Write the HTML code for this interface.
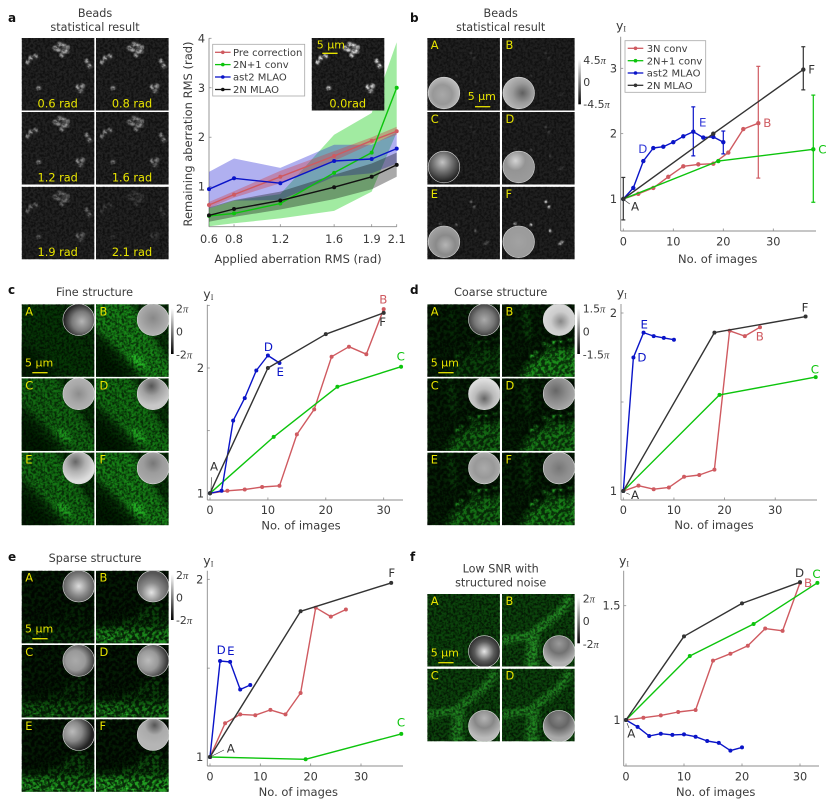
<!DOCTYPE html>
<html lang="en">
<head>
<meta charset="utf-8">
<title>Aberration correction figure</title>
<style>
html,body{margin:0;padding:0;background:#fff;}
svg{display:block;}
text{font-family:"DejaVu Sans","Liberation Sans",sans-serif;fill:#3a3a3a;font-size:11.3px;}
.pl{font-weight:bold;font-size:12px;fill:#111;}
.ttl{text-anchor:middle;font-size:11.2px;}
.cb{font-size:10.9px;}
.pi{font-family:"Liberation Serif",serif;font-style:italic;font-size:10.5px;}
</style>
</head>
<body>
<svg id="fig" xmlns="http://www.w3.org/2000/svg" width="831" height="802" viewBox="0 0 831 802">
<defs>
<linearGradient id="cbar" x1="0" y1="0" x2="0" y2="1"><stop offset="0" stop-color="#fff"/><stop offset="1" stop-color="#000"/></linearGradient>
<filter id="soft" filterUnits="userSpaceOnUse" x="-10" y="-10" width="95" height="95"><feGaussianBlur stdDeviation="0.9"/></filter>
<filter id="b1" filterUnits="userSpaceOnUse" x="-20" y="-20" width="115" height="115"><feGaussianBlur stdDeviation="1.5"/></filter>
<filter id="b2" filterUnits="userSpaceOnUse" x="-20" y="-20" width="115" height="115"><feGaussianBlur stdDeviation="2.2"/></filter>
<filter id="b3" filterUnits="userSpaceOnUse" x="-20" y="-20" width="115" height="115"><feGaussianBlur stdDeviation="3"/></filter>
<filter id="mottle" x="0" y="0" width="100%" height="100%"><feTurbulence type="fractalNoise" baseFrequency="0.42" numOctaves="2" seed="4"/><feColorMatrix type="matrix" values="0 0 0 0 0  0 0 0 0 0  0 0 0 0 0  3.4 0 0 0 -1.3"/></filter>
<filter id="mottle2" x="0" y="0" width="100%" height="100%"><feTurbulence type="fractalNoise" baseFrequency="0.3" numOctaves="3" seed="9"/><feColorMatrix type="matrix" values="0 0 0 0 0  0 0 0 0 0  0 0 0 0 0  4.2 0 0 0 -1.5"/></filter>
</defs>
<rect width="831" height="802" fill="#fff"/>

<text class="pl" x="8" y="22">a</text>
<text class="pl" x="410" y="22">b</text>
<text class="pl" x="8" y="294">c</text>
<text class="pl" x="410" y="294">d</text>
<text class="pl" x="8" y="561">e</text>
<text class="pl" x="410" y="561">f</text>

<text class="ttl" x="95" y="17">Beads</text>
<text class="ttl" x="95" y="31">statistical result</text>
<text class="ttl" x="500.7" y="17">Beads</text>
<text class="ttl" x="500.7" y="31">statistical result</text>
<text class="ttl" x="94.5" y="296">Fine structure</text>
<text class="ttl" x="500.7" y="296">Coarse structure</text>
<text class="ttl" x="95" y="562">Sparse structure</text>
<text class="ttl" x="500.7" y="572.7">Low SNR with</text>
<text class="ttl" x="500.7" y="586.7">structured noise</text>

<g id="panels"></g>
<g id="charts"></g>
<g id="overlay"></g>

<g>
<rect x="578.3" y="59.3" width="2.6" height="45" fill="url(#cbar)"/>
<text class="cb" x="583.3" y="64">4.5<tspan class="pi">π</tspan></text>
<text class="cb" x="583.3" y="86">0</text>
<text class="cb" x="583.3" y="108">-4.5<tspan class="pi">π</tspan></text>
</g>
<g>
<rect x="171" y="308.3" width="2.6" height="45.7" fill="url(#cbar)"/>
<text class="cb" x="176" y="312.5">2<tspan class="pi">π</tspan></text>
<text class="cb" x="176" y="335.7">0</text>
<text class="cb" x="176" y="358.5">-2<tspan class="pi">π</tspan></text>
</g>
<g>
<rect x="577.3" y="308.3" width="2.6" height="45.7" fill="url(#cbar)"/>
<text class="cb" x="582.7" y="312.5">1.5<tspan class="pi">π</tspan></text>
<text class="cb" x="582.7" y="335.7">0</text>
<text class="cb" x="582.7" y="358.5">-1.5<tspan class="pi">π</tspan></text>
</g>
<g>
<rect x="171" y="574.3" width="2.6" height="45.7" fill="url(#cbar)"/>
<text class="cb" x="176" y="579">2<tspan class="pi">π</tspan></text>
<text class="cb" x="176" y="601.7">0</text>
<text class="cb" x="176" y="624">-2<tspan class="pi">π</tspan></text>
</g>
<g>
<rect x="577.3" y="597.3" width="2.6" height="46" fill="url(#cbar)"/>
<text class="cb" x="582.7" y="602.3">2<tspan class="pi">π</tspan></text>
<text class="cb" x="582.7" y="625">0</text>
<text class="cb" x="582.7" y="648">-2<tspan class="pi">π</tspan></text>
</g>
</svg>

<script>
// ---------- chart data ----------
const aXTicks = [0.6, 0.8, 1.17, 1.6, 1.9, 2.1];
const aXTickLabels = ['0.6', '0.8', '1.2', '1.6', '1.9', '2.1'];
const aYTicks = [1, 2, 3, 4];
const aYTickLabels = ['1', '2', '3', '4'];
const aPre = [0.63, 0.84, 1.2, 1.62, 1.93, 2.12];
const aPreUpper = [0.69, 0.91, 1.32, 1.72, 2.0, 2.21];
const aPreLower = [0.57, 0.78, 1.07, 1.52, 1.87, 2.05];
const aConv = [0.41, 0.46, 0.66, 1.28, 1.69, 3.0];
const aConvUpper = [0.56, 0.72, 0.85, 2.05, 2.49, 3.92];
const aConvLower = [0.2, 0.26, 0.36, 0.51, 0.9, 2.1];
const aAst = [0.95, 1.17, 1.07, 1.52, 1.56, 1.77];
const aAstUpper = [1.3, 1.57, 1.38, 1.85, 1.85, 2.1];
const aAstLower = [0.56, 0.72, 0.73, 1.2, 1.27, 1.47];
const aMlao = [0.42, 0.55, 0.72, 0.99, 1.2, 1.44];
const aMlaoUpper = [0.58, 0.73, 0.9, 1.24, 1.47, 1.69];
const aMlaoLower = [0.29, 0.39, 0.54, 0.75, 0.95, 1.2];

const bXTicks = [0, 10, 20, 30];
const bYTicks = [1, 2, 3];
const bYTickLabels = ['1', '2', '3'];
const b3NX = [0, 3, 6, 9, 12, 15, 18, 21, 24, 27];
const b3NY = [1, 1.08, 1.17, 1.34, 1.5, 1.53, 1.54, 1.71, 2.07, 2.16];
const b3NErr = [27, 1.32, 3.03];
const bConvX = [0, 19, 38];
const bConvY = [1, 1.58, 1.76];
const bConvErr = [38, 0.95, 2.59];
const bAstX = [0, 2, 4, 6, 8, 10, 12, 14, 16, 18, 20];
const bAstY = [1, 1.17, 1.58, 1.78, 1.8, 1.87, 1.96, 2.03, 1.94, 1.95, 1.87];
const bAstErr1 = [14, 1.66, 2.41];
const bAstErr2 = [20, 1.69, 2.04];
const bMlaoX = [0, 18, 36];
const bMlaoY = [1, 2, 2.98];
const bMlaoErr1 = [0, 0.68, 1.33];
const bMlaoErr2 = [36, 2.67, 3.33];

const cXTicks = [0, 10, 20, 30];
const cYTicks = [1, 1.5, 2, 2.5];
const cYTickLabels = ['1', '', '2', ''];
const c3NX = [0, 3, 6, 9, 12, 15, 18, 21, 24, 27, 30];
const c3NY = [1, 1.02, 1.03, 1.05, 1.06, 1.47, 1.67, 2.09, 2.17, 2.11, 2.47];
const cConvX = [0, 11, 22, 33];
const cConvY = [1, 1.45, 1.85, 2.01];
const cAstX = [0, 2, 4, 6, 8, 10, 12];
const cAstY = [1, 1.02, 1.58, 1.76, 1.98, 2.1, 2.04];
const cMlaoX = [0, 10, 20, 30];
const cMlaoY = [1, 2, 2.27, 2.44];

const dXTicks = [0, 10, 20, 30];
const dYTicks = [1, 1.5, 2];
const dYTickLabels = ['1', '', '2'];
const d3NX = [0, 3, 6, 9, 12, 15, 18, 21, 24, 27];
const d3NY = [1, 1.03, 1.01, 1.02, 1.08, 1.09, 1.12, 1.9, 1.87, 1.92];
const dConvX = [0, 19, 38];
const dConvY = [1, 1.54, 1.64];
const dAstX = [0, 2, 4, 6, 8, 10];
const dAstY = [1, 1.75, 1.89, 1.87, 1.86, 1.85];
const dMlaoX = [0, 18, 36];
const dMlaoY = [1, 1.89, 1.98];

const eXTicks = [0, 10, 20, 30];
const eYTicks = [1, 1.5, 2];
const eYTickLabels = ['1', '', '2'];
const e3NX = [0, 3, 6, 9, 12, 15, 18, 21, 24, 27];
const e3NY = [1, 1.19, 1.24, 1.235, 1.265, 1.24, 1.36, 1.84, 1.79, 1.83];
const eConvX = [0, 19, 38];
const eConvY = [1, 0.987, 1.13];
const eAstX = [0, 2, 4, 6, 8];
const eAstY = [1, 1.54, 1.535, 1.38, 1.405];
const eMlaoX = [0, 18, 36];
const eMlaoY = [1, 1.82, 1.98];

const fXTicks = [0, 10, 20, 30];
const fYTicks = [1, 1.5];
const fYTickLabels = ['1', '1.5'];
const f3NX = [0, 3, 6, 9, 12, 15, 18, 21, 24, 27, 30];
const f3NY = [1, 1.01, 1.02, 1.035, 1.044, 1.26, 1.29, 1.325, 1.4, 1.39, 1.6];
const fConvX = [0, 11, 22, 33];
const fConvY = [1, 1.28, 1.42, 1.6];
const fAstX = [0, 2, 4, 6, 8, 10, 12, 14, 16, 18, 20];
const fAstY = [1, 0.97, 0.93, 0.94, 0.935, 0.937, 0.927, 0.908, 0.9, 0.866, 0.88];
const fMlaoX = [0, 10, 20, 30];
const fMlaoY = [1, 1.366, 1.51, 1.603];

const legendALabels = ['Pre correction', '2N+1 conv', 'ast2 MLAO', '2N MLAO'];
const legendBLabels = ['3N conv', '2N+1 conv', 'ast2 MLAO', '2N MLAO'];

// ---------- helpers ----------
const NS = 'http://www.w3.org/2000/svg';
const RED = '#cf5a60', GREEN = '#0cc40c', BLUE = '#0a14c8', BLACK = '#333333', YELLOW = '#e8e400';
let uid = 0;

function make(tag, attrs, parent, name) {
  const el = document.createElementNS(NS, tag);
  for (const k in attrs) el.setAttribute(k, attrs[k]);
  
  
  parent.appendChild(el);
  return el;
}
function label(parent, str, x, y, name, extra) {
  const t = make('text', Object.assign({ x: x, y: y }, extra || {}), parent, name);
  t.textContent = str;
  return t;
}
const panelsG = document.getElementById('panels');
const chartsG = document.getElementById('charts');
const overlayG = document.getElementById('overlay');

// ---------- image panels ----------
function panelBase(parent, px, py, name) {
  const id = 'clip' + (uid++);
  const defs = make('clipPath', { id: id }, parent, name + '-clip');
  make('rect', { x: 0, y: 0, width: 72.6, height: 72.5 }, defs, name + '-clip-rect');
  const g = make('g', { transform: 'translate(' + px + ',' + py + ')', 'clip-path': 'url(#' + id + ')' }, parent, name);
  return g;
}
function mottleOver(g, name, coarse, op) {
  make('rect', { x: 0, y: 0, width: 72.6, height: 72.5, filter: coarse ? 'url(#mottle2)' : 'url(#mottle)', opacity: op }, g, name + '-noise');
}
function letter(g, str, name) {
  label(g, str, 3.5, 11, name + '-letter', { style: 'fill:' + YELLOW + ';font-size:11.4px' });
}
function phase(g, cx, cy, gx, gy, c0, c1, c2, name) {
  const id = 'ph' + (uid++);
  const grad = make('radialGradient', { id: id, cx: gx, cy: gy, r: 0.62, fx: gx, fy: gy }, g, name + '-gradient');
  make('stop', { offset: 0, 'stop-color': c0 }, grad, name + '-stop0');
  make('stop', { offset: 0.5, 'stop-color': c1 }, grad, name + '-stop1');
  make('stop', { offset: 1, 'stop-color': c2 }, grad, name + '-stop2');
  make('circle', { cx: cx, cy: cy, r: 15.8, fill: 'url(#' + id + ')', stroke: '#d8d8d8', 'stroke-width': 0.6 }, g, name);
}
function beads(g, spots, level, radius, name) {
  spots.forEach(function (s, i) {
    make('circle', { cx: s[0], cy: s[1], r: radius, fill: '#fff', opacity: level, filter: 'url(#soft)' }, g, name + '-bead-' + i);
  });
}
const beadSpotsA = [[33.3, 10], [38, 6.3], [42, 7.3], [45.7, 9.3], [36.7, 11.7], [41.7, 13.3], [40, 17.3], [45, 13.3], [14, 18], [9, 20], [6, 24], [65, 23], [68, 28], [17, 50], [56, 49], [61, 48], [59, 53]];
const beadSpotsB = [[44, 15], [47, 20], [13, 37], [29, 38], [48, 44], [60, 55], [58, 57]];

function beadPanelA(parent, px, py, level, text, name) {
  const g = panelBase(parent, px, py, name);
  make('rect', { x: 0, y: 0, width: 73, height: 73, fill: '#222222' }, g, name + '-bg');
  beads(g, beadSpotsA, level, 2.3, name);
  mottleOver(g, name, false, 0.5);
  label(g, text, 36, 69.3, name + '-caption', { 'text-anchor': 'middle', style: 'fill:' + YELLOW });
  return g;
}
function beadPanelB(parent, px, py, level, str, ph, name) {
  const g = panelBase(parent, px, py, name);
  make('rect', { x: 0, y: 0, width: 73, height: 73, fill: '#202020' }, g, name + '-bg');
  beads(g, beadSpotsB, level, 1.3, name);
  mottleOver(g, name, false, 0.45);
  phase(g, 16.7, 55, ph[0], ph[1], ph[2], ph[3], ph[4], name + '-phase');
  letter(g, str, name);
  return g;
}
function finePanel(parent, px, py, level, str, ph, name) {
  const g = panelBase(parent, px, py, name);
  make('rect', { x: 0, y: 0, width: 73, height: 73, fill: '#073207' }, g, name + '-bg');
  make('polygon', { points: '-5,32 40,78 -5,78', fill: '#031c03', filter: 'url(#b3)' }, g, name + '-dark-corner');
  make('polygon', { points: '-4,-4 34,-4 76,62 76,78 50,78 20,44 -4,22', fill: '#1c941c', opacity: level, filter: 'url(#b3)' }, g, name + '-fibre');
  make('ellipse', { cx: 42, cy: 56, rx: 10, ry: 4, transform: 'rotate(45 42 56)', fill: '#30dc30', opacity: level * 0.85, filter: 'url(#b1)' }, g, name + '-fibre-hot');
  make('line', { x1: 16, y1: 6, x2: 60, y2: 72, stroke: '#2ecf2e', 'stroke-width': 2, opacity: level * 0.55, filter: 'url(#b1)' }, g, name + '-fibre-line-1');
  make('line', { x1: 28, y1: 4, x2: 70, y2: 72, stroke: '#2ecf2e', 'stroke-width': 1.6, opacity: level * 0.6, filter: 'url(#b1)' }, g, name + '-fibre-line-2');
  make('line', { x1: 6, y1: 16, x2: 44, y2: 66, stroke: '#2ecf2e', 'stroke-width': 1.6, opacity: level * 0.45, filter: 'url(#b1)' }, g, name + '-fibre-line-3');
  mottleOver(g, name, false, 0.6);
  phase(g, 57, 15.5, ph[0], ph[1], ph[2], ph[3], ph[4], name + '-phase');
  letter(g, str, name);
  return g;
}
function coarsePanel(parent, px, py, level, str, ph, name) {
  const g = panelBase(parent, px, py, name);
  make('rect', { x: 0, y: 0, width: 73, height: 73, fill: '#052005' }, g, name + '-bg');
  make('polygon', { points: '78,44 50,44 26,60 14,78 78,78', fill: '#27bb27', opacity: level, filter: 'url(#b3)' }, g, name + '-tissue');
  make('line', { x1: 22, y1: 0, x2: 27, y2: 34, stroke: '#1f8f1f', 'stroke-width': 5, opacity: level * 0.7, filter: 'url(#b3)' }, g, name + '-column');
  const blobs = [[42, 40], [47, 41], [52, 38], [58, 37], [68, 36], [34, 48], [30, 52]];
  blobs.forEach(function (b, i) {
    make('circle', { cx: b[0], cy: b[1], r: 1.8, fill: '#38e038', opacity: level * 1.2, filter: 'url(#soft)' }, g, name + '-blob-' + i);
  });
  mottleOver(g, name, true, 0.65);
  phase(g, 57, 15.5, ph[0], ph[1], ph[2], ph[3], ph[4], name + '-phase');
  letter(g, str, name);
  return g;
}
function sparsePanel(parent, px, py, level, str, ph, name) {
  const g = panelBase(parent, px, py, name);
  make('rect', { x: 0, y: 0, width: 73, height: 73, fill: '#041b04' }, g, name + '-bg');
  make('polygon', { points: '-4,78 -4,56 30,50 52,36 62,30 78,62 78,78', fill: '#1f8f1f', opacity: level * 0.5, filter: 'url(#b3)' }, g, name + '-tissue');
  make('rect', { x: -4, y: 58, width: 80, height: 18, fill: '#2fd02f', opacity: level * 0.7, filter: 'url(#b3)' }, g, name + '-bright-band');
  make('line', { x1: 5, y1: 68, x2: 40, y2: 70, stroke: '#3ae03a', 'stroke-width': 1, opacity: level * 0.8 }, g, name + '-streak');
  mottleOver(g, name, true, 0.75);
  phase(g, 57, 15.5, ph[0], ph[1], ph[2], ph[3], ph[4], name + '-phase');
  letter(g, str, name);
  return g;
}
function snrPanel(parent, px, py, level, str, ph, name) {
  const g = panelBase(parent, px, py, name);
  make('rect', { x: 0, y: 0, width: 73, height: 73, fill: '#0c430c' }, g, name + '-bg');
  make('path', { d: 'M68,2 C62,18 50,24 38,34 C28,44 14,44 -4,47', stroke: '#2a9f2a', 'stroke-width': 8, fill: 'none', opacity: level, filter: 'url(#b2)' }, g, name + '-structure');
  make('path', { d: 'M33,42 C30,52 30,62 30,78', stroke: '#2a9f2a', 'stroke-width': 12, fill: 'none', opacity: level, filter: 'url(#b2)' }, g, name + '-branch');
  mottleOver(g, name, false, 0.6);
  phase(g, 57, 57.5, ph[0], ph[1], ph[2], ph[3], ph[4], name + '-phase');
  letter(g, str, name);
  return g;
}
function scaleBar(parent, x, y, tx, ty, name) {
  make('line', { x1: x, y1: y, x2: x + 15.3, y2: y, stroke: YELLOW, 'stroke-width': 1.3 }, parent, name);
  label(parent, '5 μm', tx, ty, name + '-text', { style: 'fill:' + YELLOW + ';font-size:11px' });
}

const colL = 21.7, colR = 96, colL2 = 427.3, colR2 = 502;
const rowsTop = [38, 112, 186.8];
const rowsMid = [304.3, 378.4, 452.6];
const rowsLow = [570.7, 645, 719.2];

// panel a thumbnails
beadPanelA(panelsG, colL, rowsTop[0], 0.6, '0.6 rad', 'beads-0-6');
beadPanelA(panelsG, colR, rowsTop[0], 0.6, '0.8 rad', 'beads-0-8');
beadPanelA(panelsG, colL, rowsTop[1], 0.5, '1.2 rad', 'beads-1-2');
beadPanelA(panelsG, colR, rowsTop[1], 0.45, '1.6 rad', 'beads-1-6');
beadPanelA(panelsG, colL, rowsTop[2], 0.32, '1.9 rad', 'beads-1-9');
beadPanelA(panelsG, colR, rowsTop[2], 0.12, '2.1 rad', 'beads-2-1');

// panel b thumbnails
beadPanelB(panelsG, colL2, rowsTop[0], 0.14, 'A', [0.45, 0.55, '#a8a8a8', '#989898', '#c8c8c8'], 'b-image-a');
beadPanelB(panelsG, colR2, rowsTop[0], 0.12, 'B', [0.62, 0.5, '#5f5f5f', '#9a9a9a', '#bdbdbd'], 'b-image-b');
beadPanelB(panelsG, colL2, rowsTop[1], 0.09, 'C', [0.45, 0.35, '#c4c4c4', '#707070', '#222222'], 'b-image-c');
beadPanelB(panelsG, colR2, rowsTop[1], 0.2, 'D', [0.4, 0.3, '#d4d4d4', '#949494', '#9a9a9a'], 'b-image-d');
beadPanelB(panelsG, colL2, rowsTop[2], 0.38, 'E', [0.55, 0.6, '#b5b5b5', '#8a8a8a', '#a5a5a5'], 'b-image-e');
beadPanelB(panelsG, colR2, rowsTop[2], 1, 'F', [0.5, 0.5, '#a2a2a2', '#9c9c9c', '#9a9a9a'], 'b-image-f');
scaleBar(panelsG, 475, 106.7, 467.7, 100, 'b-scale-bar');

// panel c thumbnails
finePanel(panelsG, colL, rowsMid[0], 0.03, 'A', [0.6, 0.55, '#b5b5b5', '#7a7a7a', '#111111'], 'c-image-a');
finePanel(panelsG, colR, rowsMid[0], 0.75, 'B', [0.5, 0.45, '#888888', '#a0a0a0', '#bababa'], 'c-image-b');
finePanel(panelsG, colL, rowsMid[1], 0.5, 'C', [0.5, 0.5, '#8c8c8c', '#a8a8a8', '#b8b8b8'], 'c-image-c');
finePanel(panelsG, colR, rowsMid[1], 0.6, 'D', [0.45, 0.25, '#555555', '#a0a0a0', '#c8c8c8'], 'c-image-d');
finePanel(panelsG, colL, rowsMid[2], 0.58, 'E', [0.4, 0.3, '#666666', '#b0b0b0', '#dddddd'], 'c-image-e');
finePanel(panelsG, colR, rowsMid[2], 0.72, 'F', [0.5, 0.35, '#777777', '#9c9c9c', '#aaaaaa'], 'c-image-f');
scaleBar(panelsG, 32.3, 372.7, 25, 366.7, 'c-scale-bar');

// panel d thumbnails
coarsePanel(panelsG, colL2, rowsMid[0], 0.22, 'A', [0.5, 0.5, '#aaaaaa', '#777777', '#222222'], 'd-image-a');
coarsePanel(panelsG, colR2, rowsMid[0], 0.7, 'B', [0.55, 0.55, '#888888', '#cccccc', '#dddddd'], 'd-image-b');
coarsePanel(panelsG, colL2, rowsMid[1], 0.48, 'C', [0.5, 0.65, '#666666', '#bbbbbb', '#e0e0e0'], 'd-image-c');
coarsePanel(panelsG, colR2, rowsMid[1], 0.56, 'D', [0.4, 0.4, '#666666', '#8a8a8a', '#a8a8a8'], 'd-image-d');
coarsePanel(panelsG, colL2, rowsMid[2], 0.52, 'E', [0.5, 0.5, '#aaaaaa', '#999999', '#b5b5b5'], 'd-image-e');
coarsePanel(panelsG, colR2, rowsMid[2], 0.62, 'F', [0.5, 0.5, '#777777', '#8e8e8e', '#999999'], 'd-image-f');
scaleBar(panelsG, 438.3, 372.7, 430.7, 366.7, 'd-scale-bar');

// panel e thumbnails
sparsePanel(panelsG, colL, rowsLow[0], 0.14, 'A', [0.5, 0.5, '#dddddd', '#888888', '#444444'], 'e-image-a');
sparsePanel(panelsG, colR, rowsLow[0], 0.7, 'B', [0.45, 0.7, '#e5e5e5', '#8a8a8a', '#555555'], 'e-image-b');
sparsePanel(panelsG, colL, rowsLow[1], 0.4, 'C', [0.4, 0.5, '#aaaaaa', '#999999', '#333333'], 'e-image-c');
sparsePanel(panelsG, colR, rowsLow[1], 0.6, 'D', [0.35, 0.5, '#bbbbbb', '#999999', '#333333'], 'e-image-d');
sparsePanel(panelsG, colL, rowsLow[2], 0.75, 'E', [0.3, 0.4, '#bbbbbb', '#888888', '#222222'], 'e-image-e');
sparsePanel(panelsG, colR, rowsLow[2], 0.9, 'F', [0.55, 0.2, '#555555', '#aaaaaa', '#b5b5b5'], 'e-image-f');
scaleBar(panelsG, 32.3, 638.7, 25, 632.7, 'e-scale-bar');

// panel f thumbnails
snrPanel(panelsG, colL2, 594, 0.04, 'A', [0.5, 0.5, '#e8e8e8', '#5a5a5a', '#111111'], 'f-image-a');
snrPanel(panelsG, colR2, 594, 0.8, 'B', [0.5, 0.25, '#9a9a9a', '#727272', '#b0b0b0'], 'f-image-b');
snrPanel(panelsG, colL2, 668.7, 0.68, 'C', [0.5, 0.25, '#b4b4b4', '#888888', '#bbbbbb'], 'f-image-c');
snrPanel(panelsG, colR2, 668.7, 0.7, 'D', [0.5, 0.25, '#888888', '#666666', '#aaaaaa'], 'f-image-d');
scaleBar(panelsG, 438.3, 662.7, 430.7, 656.7, 'f-scale-bar');

// ---------- axes ----------
function makeAxes(cfg) {
  const kx = (cfg.px2 - cfg.px1) / (cfg.v2 - cfg.v1);
  const ky = (cfg.py2 - cfg.py1) / (cfg.w2 - cfg.w1);
  const g = make('g', {}, chartsG, cfg.name);
  const ax = {
    g: g,
    name: cfg.name,
    x: function (v) { return cfg.px1 + (v - cfg.v1) * kx; },
    y: function (v) { return cfg.py1 + (v - cfg.w1) * ky; }
  };
  const axisColor = '#8c8c8c';
  make('line', { x1: cfg.left, y1: cfg.top, x2: cfg.left, y2: cfg.bottom, stroke: axisColor, 'stroke-width': 0.9 }, g, cfg.name + '-y-axis');
  make('line', { x1: cfg.left, y1: cfg.bottom, x2: cfg.right, y2: cfg.bottom, stroke: axisColor, 'stroke-width': 0.9 }, g, cfg.name + '-x-axis');
  cfg.yTicks.forEach(function (v, i) {
    const p = ax.y(v);
    make('line', { x1: cfg.left, y1: p, x2: cfg.left + 2.5, y2: p, stroke: axisColor, 'stroke-width': 0.8 }, g, cfg.name + '-y-tick');
    if (cfg.yLabels[i]) label(g, cfg.yLabels[i], cfg.yLabelX, p + 4, cfg.name + '-y-tick-label', { 'text-anchor': 'end' });
  });
  cfg.xTicks.forEach(function (v, i) {
    const p = ax.x(v);
    make('line', { x1: p, y1: cfg.bottom, x2: p, y2: cfg.bottom - 2.5, stroke: axisColor, 'stroke-width': 0.8 }, g, cfg.name + '-x-tick');
    label(g, cfg.xLabels ? cfg.xLabels[i] : String(v), p, cfg.xLabelY, cfg.name + '-x-tick-label', { 'text-anchor': 'middle' });
  });
  label(g, cfg.xTitle, cfg.xTitleX, cfg.xTitleY, cfg.name + '-x-title', { 'text-anchor': 'middle', style: 'font-size:11.5px' });
  if (cfg.yI) {
    const t = label(g, 'y', cfg.yI[0], cfg.yI[1], cfg.name + '-y-title', { style: 'font-size:12.5px' });
    const s = document.createElementNS(NS, 'tspan');
    s.setAttribute('style', 'font-family:\'Liberation Serif\',serif;font-size:8px');
    s.setAttribute('dy', '1.5');
    s.textContent = 'I';
    t.appendChild(s);
  }
  return ax;
}
function band(ax, xs, upper, lower, color, op, name) {
  const pts = [];
  xs.forEach(function (v, i) { pts.push(ax.x(v).toFixed(1) + ',' + ax.y(upper[i]).toFixed(1)); });
  for (let i = xs.length - 1; i >= 0; i--) pts.push(ax.x(xs[i]).toFixed(1) + ',' + ax.y(lower[i]).toFixed(1));
  make('polygon', { points: pts.join(' '), fill: color, 'fill-opacity': op }, ax.g, ax.name + '-band-' + name);
}
function series(ax, xs, ys, color, name, lw, r) {
  const pts = xs.map(function (v, i) { return ax.x(v).toFixed(1) + ',' + ax.y(ys[i]).toFixed(1); }).join(' ');
  make('polyline', { points: pts, fill: 'none', stroke: color, 'stroke-width': lw || 1.4, 'stroke-linejoin': 'round' }, ax.g, ax.name + '-line-' + name);
  xs.forEach(function (v, i) {
    make('circle', { cx: ax.x(v), cy: ax.y(ys[i]), r: r || 2, fill: color }, ax.g, ax.name + '-point-' + name);
  });
}
function errBar(ax, spec, color, name) {
  const p = ax.x(spec[0]), a = ax.y(spec[1]), b = ax.y(spec[2]);
  make('line', { x1: p, y1: a, x2: p, y2: b, stroke: color, 'stroke-width': 1.2 }, ax.g, ax.name + '-error-bar-' + name);
  make('line', { x1: p - 2, y1: a, x2: p + 2, y2: a, stroke: color, 'stroke-width': 1.2 }, ax.g, ax.name + '-error-cap-' + name);
  make('line', { x1: p - 2, y1: b, x2: p + 2, y2: b, stroke: color, 'stroke-width': 1.2 }, ax.g, ax.name + '-error-cap-' + name);
}
function pointLabel(ax, str, xv, yv, dx, dy, color, size) {
  label(ax.g, str, ax.x(xv) + dx, ax.y(yv) + dy, ax.name + '-point-label-' + str, { style: 'fill:' + color + ';font-size:' + (size || 11.8) + 'px' });
}
function leader(ax, xv, yv, dx1, dy1, dx2, dy2, color) {
  const p = ax.x(xv), q = ax.y(yv);
  make('line', { x1: p + dx1, y1: q + dy1, x2: p + dx2, y2: q + dy2, stroke: color, 'stroke-width': 0.6 }, ax.g, ax.name + '-leader');
}
function legend(ax, bx, by, bw, bh, lineX, textX, ys, labels, colors) {
  const g = make('g', {}, ax.g, ax.name + '-legend');
  make('rect', { x: bx, y: by, width: bw, height: bh, fill: '#fff', stroke: '#a8a8a8', 'stroke-width': 0.8 }, g, ax.name + '-legend-box');
  labels.forEach(function (t, i) {
    make('line', { x1: lineX, y1: ys[i], x2: lineX + 15.6, y2: ys[i], stroke: colors[i], 'stroke-width': 1.3 }, g, ax.name + '-legend-line');
    make('circle', { cx: lineX + 7.8, cy: ys[i], r: 1.8, fill: colors[i] }, g, ax.name + '-legend-marker');
    label(g, t, textX, ys[i] + 3.6, ax.name + '-legend-entry', { style: 'font-size:10px' });
  });
}

// ---------- chart a ----------
const axA = makeAxes({ name: 'chart-a', left: 209, right: 396.7, top: 38.3, bottom: 226.7,
  v1: 0.6, px1: 209, v2: 2.1, px2: 396.7, w1: 1, py1: 186.7, w2: 4, py2: 38.3,
  xTicks: aXTicks, xLabels: aXTickLabels, yTicks: aYTicks, yLabels: aYTickLabels, yLabelX: 205, xLabelY: 243,
  xTitle: 'Applied aberration RMS (rad)', xTitleX: 298, xTitleY: 263 });
label(axA.g, 'Remaining aberration RMS (rad)', 0, 0, 'chart-a-y-title', { 'text-anchor': 'middle', transform: 'translate(192,134) rotate(-90)', style: 'font-size:11.5px' });
band(axA, aXTicks, aConvUpper, aConvLower, '#20d020', 0.42, 'conv');
band(axA, aXTicks, aAstUpper, aAstLower, '#3030d8', 0.38, 'ast');
band(axA, aXTicks, aPreUpper, aPreLower, '#d04048', 0.38, 'pre');
band(axA, aXTicks, aMlaoUpper, aMlaoLower, '#101010', 0.36, 'mlao');
series(axA, aXTicks, aPre, RED, 'pre');
series(axA, aXTicks, aConv, GREEN, 'conv');
series(axA, aXTicks, aAst, BLUE, 'ast');
series(axA, aXTicks, aMlao, '#111111', 'mlao');
legend(axA, 212.7, 44.3, 92, 51.7, 215, 233, [52.3, 64.6, 77, 89.5], legendALabels, [RED, GREEN, BLUE, '#111111']);

// inset image sits above the chart
const insetPanel = beadPanelA(overlayG, 311.7, 38, 0.85, '0.0rad', 'inset-0-0');
scaleBar(insetPanel, 10.6, 15.3, 5, 10.3, 'inset-scale-bar');

// ---------- chart b ----------
const axB = makeAxes({ name: 'chart-b', left: 620.7, right: 816, top: 36.7, bottom: 231,
  v1: 0, px1: 623.3, v2: 30, px2: 773.3, w1: 1, py1: 199, w2: 3, py2: 68.3,
  xTicks: bXTicks, yTicks: bYTicks, yLabels: bYTickLabels, yLabelX: 617, xLabelY: 245.7,
  xTitle: 'No. of images', xTitleX: 717.7, xTitleY: 263, yI: [616, 30] });
errBar(axB, b3NErr, RED, '3n');
errBar(axB, bConvErr, GREEN, 'conv');
errBar(axB, bAstErr1, BLUE, 'ast-1');
errBar(axB, bAstErr2, BLUE, 'ast-2');
errBar(axB, bMlaoErr1, BLACK, 'mlao-1');
errBar(axB, bMlaoErr2, BLACK, 'mlao-2');
series(axB, b3NX, b3NY, RED, '3n', 1.4, 2.2);
series(axB, bConvX, bConvY, GREEN, 'conv', 1.4, 2.2);
series(axB, bAstX, bAstY, BLUE, 'ast', 1.4, 2.2);
series(axB, bMlaoX, bMlaoY, BLACK, 'mlao', 1.4, 2.2);
legend(axB, 625, 40.7, 80.7, 51.6, 627.7, 646.7, [48.3, 60.7, 73, 85.3], legendBLabels, [RED, GREEN, BLUE, BLACK]);
leader(axB, bMlaoX[0], bMlaoY[0], 1, 1, 6.5, 5, BLACK);
pointLabel(axB, 'A', bMlaoX[0], bMlaoY[0], 7.7, 11.7, BLACK);
pointLabel(axB, 'B', b3NX[9], b3NY[9], 5, 4, RED);
pointLabel(axB, 'C', bConvX[2], bConvY[2], 5, 4, GREEN);
pointLabel(axB, 'D', bAstX[2], bAstY[2], -5, -8.3, '#3038d8');
pointLabel(axB, 'E', bAstX[7], bAstY[7], 5.7, -5, '#3038d8');
pointLabel(axB, 'F', bMlaoX[2], bMlaoY[2], 5, 4, BLACK);

// ---------- chart c ----------
const axC = makeAxes({ name: 'chart-c', left: 207.3, right: 403, top: 304.7, bottom: 500,
  v1: 0, px1: 210, v2: 30, px2: 383.7, w1: 1, py1: 493.3, w2: 2, py2: 368,
  xTicks: cXTicks, yTicks: cYTicks, yLabels: cYTickLabels, yLabelX: 204, xLabelY: 514,
  xTitle: 'No. of images', xTitleX: 301, xTitleY: 529.3, yI: [203.3, 298.3] });
series(axC, c3NX, c3NY, RED, '3n');
series(axC, cConvX, cConvY, GREEN, 'conv');
series(axC, cAstX, cAstY, BLUE, 'ast');
series(axC, cMlaoX, cMlaoY, BLACK, 'mlao');
leader(axC, cMlaoX[0], cMlaoY[0], 1, -3, 1.5, -16, BLACK);
pointLabel(axC, 'A', cMlaoX[0], cMlaoY[0], 0, -23, BLACK);
pointLabel(axC, 'B', c3NX[10], c3NY[10], -4.4, -5.7, RED);
pointLabel(axC, 'C', cConvX[3], cConvY[3], -4.4, -6, GREEN);
pointLabel(axC, 'D', cAstX[5], cAstY[5], -4, -4.6, BLUE);
pointLabel(axC, 'E', cAstX[6], cAstY[6], -3, 13, BLUE);
pointLabel(axC, 'F', cMlaoX[3], cMlaoY[3], -4.4, 13, BLACK);

// ---------- chart d ----------
const axD = makeAxes({ name: 'chart-d', left: 621, right: 817, top: 304, bottom: 500,
  v1: 0, px1: 623.3, v2: 30, px2: 775.2, w1: 1, py1: 491, w2: 2, py2: 313,
  xTicks: dXTicks, yTicks: dYTicks, yLabels: dYTickLabels, yLabelX: 617, xLabelY: 514,
  xTitle: 'No. of images', xTitleX: 714, xTitleY: 529, yI: [616.7, 297] });
series(axD, d3NX, d3NY, RED, '3n');
series(axD, dConvX, dConvY, GREEN, 'conv');
series(axD, dAstX, dAstY, BLUE, 'ast');
series(axD, dMlaoX, dMlaoY, BLACK, 'mlao');
leader(axD, dMlaoX[0], dMlaoY[0], 3, 2, 6.5, 3.5, BLACK);
pointLabel(axD, 'A', dMlaoX[0], dMlaoY[0], 7.7, 8, BLACK);
pointLabel(axD, 'B', d3NX[9], d3NY[9], -4.2, 13.5, RED);
pointLabel(axD, 'C', dConvX[2], dConvY[2], -5, -3.7, GREEN);
pointLabel(axD, 'D', dAstX[1], dAstY[1], 4, 4, BLUE);
pointLabel(axD, 'E', dAstX[2], dAstY[2], -3, -4.3, BLUE);
pointLabel(axD, 'F', dMlaoX[2], dMlaoY[2], -4, -5, BLACK);

// ---------- chart e ----------
const axE = makeAxes({ name: 'chart-e', left: 207.3, right: 403, top: 570.7, bottom: 766,
  v1: 0, px1: 210, v2: 30, px2: 361, w1: 1, py1: 757, w2: 2, py2: 579.3,
  xTicks: eXTicks, yTicks: eYTicks, yLabels: eYTickLabels, yLabelX: 203.3, xLabelY: 780.7,
  xTitle: 'No. of images', xTitleX: 298.3, xTitleY: 796, yI: [203.3, 565] });
series(axE, e3NX, e3NY, RED, '3n');
series(axE, eConvX, eConvY, GREEN, 'conv');
series(axE, eAstX, eAstY, BLUE, 'ast');
series(axE, eMlaoX, eMlaoY, BLACK, 'mlao');
leader(axE, eMlaoX[0], eMlaoY[0], 2, -1, 14, -7, BLACK);
pointLabel(axE, 'A', eMlaoX[0], eMlaoY[0], 16.7, -4.3, BLACK);
pointLabel(axE, 'C', eConvX[2], eConvY[2], -4.4, -7.3, GREEN);
pointLabel(axE, 'D', eAstX[1], eAstY[1], -3.4, -7, BLUE);
pointLabel(axE, 'E', eAstX[2], eAstY[2], -3, -7, BLUE);
pointLabel(axE, 'F', eMlaoX[2], eMlaoY[2], -2.8, -5.7, BLACK);

// ---------- chart f ----------
const axF = makeAxes({ name: 'chart-f', left: 623.7, right: 819, top: 570.7, bottom: 766,
  v1: 0, px1: 626, v2: 30, px2: 800, w1: 1, py1: 720, w2: 1.5, py2: 605.7,
  xTicks: fXTicks, yTicks: fYTicks, yLabels: fYTickLabels, yLabelX: 620.5, xLabelY: 780.7,
  xTitle: 'No. of images', xTitleX: 715.7, xTitleY: 796, yI: [619, 565] });
series(axF, f3NX, f3NY, RED, '3n');
series(axF, fConvX, fConvY, GREEN, 'conv');
series(axF, fAstX, fAstY, BLUE, 'ast');
series(axF, fMlaoX, fMlaoY, BLACK, 'mlao');
leader(axF, fMlaoX[0], fMlaoY[0], 1, 3, 3, 8, BLACK);
pointLabel(axF, 'A', fMlaoX[0], fMlaoY[0], 1.3, 17.7, BLACK);
pointLabel(axF, 'B', f3NX[10], f3NY[10], 4, 4, RED);
pointLabel(axF, 'C', fConvX[3], fConvY[3], -5, -5, GREEN);
pointLabel(axF, 'D', fMlaoX[3], fMlaoY[3], -5, -5, BLACK);
</script>
</body>
</html>
